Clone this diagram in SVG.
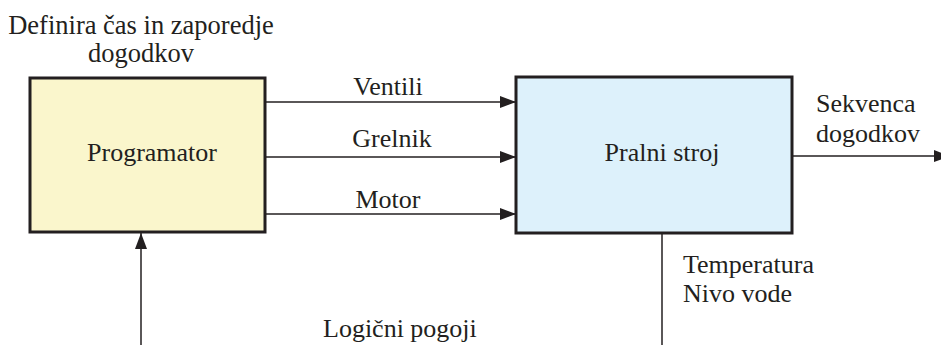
<svg xmlns="http://www.w3.org/2000/svg" width="941" height="345" viewBox="0 0 941 345" font-family="'Liberation Serif', 'DejaVu Serif', serif">
<style>
text{font-family:'Liberation Serif','DejaVu Serif',serif;font-size:26px;fill:#231f20}
.box{stroke:#231f20;stroke-width:3}
.ln{stroke:#231f20;stroke-width:1.5;fill:none}
</style>
<defs>
<marker id="ah" markerUnits="userSpaceOnUse" markerWidth="16" markerHeight="12" refX="16" refY="6" orient="auto">
<path d="M0,0 L16,6 L0,12 z" fill="#231f20"/>
</marker>
</defs>
<rect width="941" height="345" fill="#ffffff"/>
<g id="title">
<text x="141" y="34" text-anchor="middle" style="font-size:26.5px">Definira čas in zaporedje</text>
<text x="141" y="62" text-anchor="middle" style="font-size:26.5px">dogodkov</text>
</g>
<g id="programator">
<rect class="box" x="30" y="78" width="235" height="154" fill="#faf6cc"/>
<text x="152" y="161" text-anchor="middle">Programator</text>
</g>
<g id="pralni">
<rect class="box" x="516" y="77" width="276" height="156" fill="#ddf1fb"/>
<text x="662" y="161" text-anchor="middle">Pralni stroj</text>
</g>
<g id="connectors">
<line class="ln" x1="266" y1="102" x2="516" y2="102" marker-end="url(#ah)"/>
<line class="ln" x1="266" y1="157" x2="516" y2="157" marker-end="url(#ah)"/>
<line class="ln" x1="266" y1="214" x2="516" y2="214" marker-end="url(#ah)"/>
<line class="ln" x1="793" y1="156" x2="950" y2="156" marker-end="url(#ah)"/>
<line class="ln" x1="141" y1="345" x2="141" y2="233" marker-end="url(#ah)"/>
<line class="ln" x1="662" y1="234" x2="662" y2="345"/>
</g>
<g id="labels">
<text x="388" y="95" text-anchor="middle">Ventili</text>
<text x="392" y="147" text-anchor="middle">Grelnik</text>
<text x="388" y="208" text-anchor="middle">Motor</text>
<text x="816" y="112">Sekvenca</text>
<text x="816" y="142">dogodkov</text>
<text x="683" y="273">Temperatura</text>
<text x="683" y="302">Nivo vode</text>
<text x="323" y="337">Logični pogoji</text>
</g>
</svg>
